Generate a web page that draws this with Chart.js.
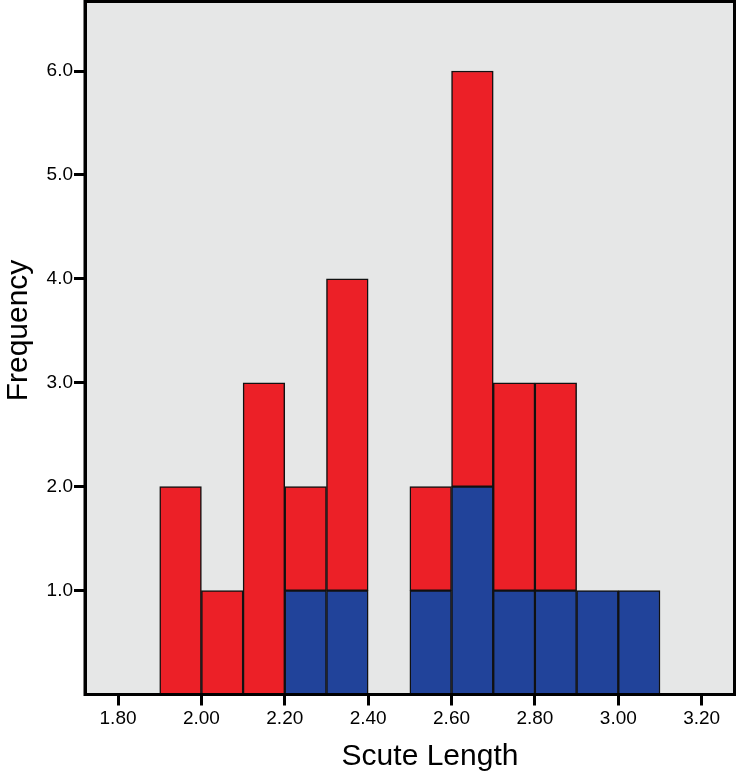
<!DOCTYPE html>
<html>
<head>
<meta charset="utf-8">
<script src="https://cdn.jsdelivr.net/npm/chart.js@4/dist/chart.umd.min.js"></script>
<style>
  body { margin: 0; background: #fff; }
  canvas { display: block; }
</style>
</head>
<body>
<canvas id="histChart" width="736" height="776"></canvas>
<script>
// Histogram data: bin centres (width 0.1), counts per group
const binCenters = [1.95, 2.05, 2.15, 2.25, 2.35, 2.45, 2.55, 2.65, 2.75, 2.85, 2.95, 3.05];
const blueCounts = [0, 0, 0, 1, 1, 0, 1, 2, 1, 1, 1, 1];
const redCounts  = [2, 1, 3, 1, 3, 0, 1, 4, 2, 2, 0, 0];
const xTicks = [1.8, 2.0, 2.2, 2.4, 2.6, 2.8, 3.0, 3.2];
const yTicks = [1, 2, 3, 4, 5, 6];

const FONT = "'Liberation Sans', Arial, sans-serif";

function toPoints(counts) {
    return binCenters.map((x, i) => ({ x: x, y: counts[i] })).filter(p => p.y > 0);
}

// plot background + frame
const framePlugin = {
    id: 'frame',
    beforeDraw(chart) {
        const a = chart.chartArea, ctx = chart.ctx;
        ctx.save();
        ctx.fillStyle = '#e6e7e7';
        ctx.fillRect(a.left, a.top, a.right - a.left, a.bottom - a.top);
        ctx.restore();
    },
    afterDraw(chart) {
        const a = chart.chartArea, ctx = chart.ctx;
        ctx.save();
        ctx.strokeStyle = '#000';
        ctx.lineWidth = 3;
        ctx.strokeRect(a.left, a.top, a.right - a.left, a.bottom - a.top);

        // axis titles
        ctx.fillStyle = '#000';
        ctx.font = '30px ' + FONT;
        ctx.textAlign = 'center';
        ctx.textBaseline = 'alphabetic';
        ctx.fillText('Scute Length', 430, 765);
        ctx.translate(27, 330.5);
        ctx.rotate(-Math.PI / 2);
        ctx.fillText('Frequency', 0, 0);
        ctx.restore();
    }
};

new Chart(document.getElementById('histChart').getContext('2d'), {
    type: 'bar',
    data: {
        datasets: [{
            label: 'Blue',
            data: toPoints(blueCounts),
            backgroundColor: '#21439a',
            borderColor: '#111',
            borderWidth: 1.5,
            borderSkipped: false
        }, {
            label: 'Red',
            data: toPoints(redCounts),
            backgroundColor: '#ec2027',
            borderColor: '#111',
            borderWidth: 1.5,
            borderSkipped: false
        }]
    },
    options: {
        responsive: false,
        devicePixelRatio: 1,
        animation: false,
        categoryPercentage: 1,
        barPercentage: 1,
        layout: { padding: { top: 1.5, right: 1.5, left: 0, bottom: 0 } },
        plugins: {
            legend: { display: false },
            tooltip: { enabled: false }
        },
        scales: {
            x: {
                type: 'linear',
                stacked: true,
                offset: false,
                min: 1.7208,
                max: 3.2787,
                afterBuildTicks: s => { s.ticks = xTicks.map(v => ({ value: v })); },
                afterFit: s => { s.height = 81.5; s.paddingLeft = 0; s.paddingRight = 0; },
                grid: {
                    offset: false,
                    drawOnChartArea: false,
                    drawTicks: true,
                    tickLength: 11,
                    tickWidth: 3,
                    tickColor: '#000'
                },
                border: { display: true, color: '#000', width: 3 },
                ticks: {
                    color: '#000',
                    padding: 2,
                    maxRotation: 0,
                    autoSkip: false,
                    font: { family: FONT, size: 19 },
                    callback: v => Number(v).toFixed(2)
                }
            },
            y: {
                stacked: true,
                min: 0,
                max: 6.669,
                afterBuildTicks: s => { s.ticks = yTicks.map(v => ({ value: v })); },
                afterFit: s => { s.width = 85; s.paddingTop = 0; s.paddingBottom = 0; },
                grid: {
                    drawOnChartArea: false,
                    drawTicks: true,
                    tickLength: 11,
                    tickWidth: 3,
                    tickColor: '#000'
                },
                border: { display: true, color: '#000', width: 3 },
                ticks: {
                    color: '#000',
                    padding: 1,
                    font: { family: FONT, size: 19 },
                    callback: v => Number(v).toFixed(1)
                }
            }
        }
    },
    plugins: [framePlugin]
});
</script>
</body>
</html>
